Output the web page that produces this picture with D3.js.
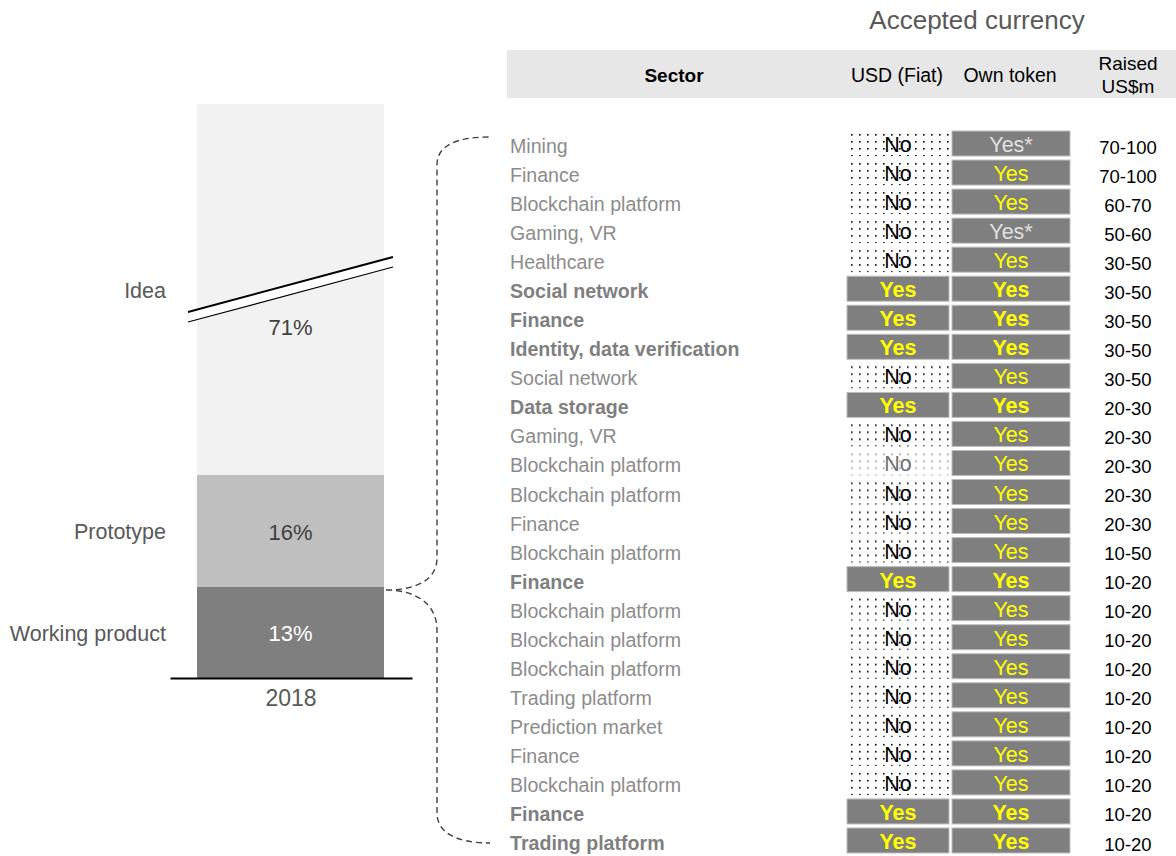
<!DOCTYPE html>
<html>
<head>
<meta charset="utf-8">
<script src="https://cdn.jsdelivr.net/npm/d3@7"></script>
<style>
  html, body { margin: 0; padding: 0; background: #fff; }
  svg { display: block; font-family: "Liberation Sans", Arial, sans-serif; }
</style>
</head>
<body>
<svg id="chart" width="1176" height="856"></svg>
<script>
// ---------------- data ----------------
const barYear = ["2018"];
const stages = ["Working product", "Prototype", "Idea"];
const shares = [13, 16, 71];
const shareLabels = ["13%", "16%", "71%"];

const headers = ["Sector", "USD (Fiat)", "Own token", "Raised US$m"];
const titleText = "Accepted currency";

const sectors = [
  "Mining", "Finance", "Blockchain platform", "Gaming, VR", "Healthcare",
  "Social network", "Finance", "Identity, data verification", "Social network", "Data storage",
  "Gaming, VR", "Blockchain platform", "Blockchain platform", "Finance", "Blockchain platform",
  "Finance", "Blockchain platform", "Blockchain platform", "Blockchain platform", "Trading platform",
  "Prediction market", "Finance", "Blockchain platform", "Finance", "Trading platform"
];
const usdAccepted = [
  "No", "No", "No", "No", "No",
  "Yes", "Yes", "Yes", "No", "Yes",
  "No", "No", "No", "No", "No",
  "Yes", "No", "No", "No", "No",
  "No", "No", "No", "Yes", "Yes"
];
const tokenAccepted = [
  "Yes*", "Yes", "Yes", "Yes*", "Yes",
  "Yes", "Yes", "Yes", "Yes", "Yes",
  "Yes", "Yes", "Yes", "Yes", "Yes",
  "Yes", "Yes", "Yes", "Yes", "Yes",
  "Yes", "Yes", "Yes", "Yes", "Yes"
];
const raised = [
  "70-100", "70-100", "60-70", "50-60", "30-50",
  "30-50", "30-50", "30-50", "30-50", "20-30",
  "20-30", "20-30", "20-30", "20-30", "10-50",
  "10-20", "10-20", "10-20", "10-20", "10-20",
  "10-20", "10-20", "10-20", "10-20", "10-20"
];
const fadedRows = [11];

// ---------------- setup ----------------
const svg = d3.select("#chart");
const defs = svg.append("defs");

function dotPattern(id, color) {
  const p = defs.append("pattern").attr("id", id)
    .attr("patternUnits", "userSpaceOnUse")
    .attr("x", 848).attr("y", 0)
    .attr("width", 8).attr("height", 7);
  p.append("rect").attr("width", 8).attr("height", 7).attr("fill", "#fff");
  p.append("rect").attr("x", 3).attr("y", 3).attr("width", 1.6).attr("height", 1.6).attr("fill", color);
}
dotPattern("dots", "#000");
dotPattern("dotsFaded", "#9a9a9a");

// ---------------- left stacked bar ----------------
const x = d3.scaleBand().domain(barYear).range([197, 384]).padding(0);
const y = d3.scaleLinear().domain([0, 29, 100]).range([678, 475, 104]);

const stackData = [];
let acc = 0;
stages.forEach((s, i) => { stackData.push({ stage: s, v0: acc, v1: acc + shares[i], label: shareLabels[i] }); acc += shares[i]; });

const segColors = d3.scaleOrdinal().domain(stages).range(["#7f7f7f", "#bfbfbf", "#f2f2f2"]);
const valColors = d3.scaleOrdinal().domain(stages).range(["#ffffff", "#404040", "#404040"]);

const gBar = svg.append("g");
gBar.selectAll("rect.seg").data(stackData).join("rect")
  .attr("class", "seg")
  .attr("x", x("2018")).attr("width", x.bandwidth())
  .attr("y", d => y(d.v1)).attr("height", d => y(d.v0) - y(d.v1))
  .attr("fill", d => segColors(d.stage));

// break mark on the Idea segment
const idea = stackData[2];
const yMidIdea = (y(idea.v0) + y(idea.v1)) / 2;
const bx0 = x("2018") - 9, bx1 = x("2018") + x.bandwidth() + 9;
const slope = -55 / 205;
const bxc = (bx0 + bx1) / 2;
const ly = (xx, off) => yMidIdea + off + (xx - bxc) * slope;
gBar.append("path")
  .attr("d", `M${bx0},${ly(bx0, -5)} L${bx1},${ly(bx1, -5)} L${bx1},${ly(bx1, 5)} L${bx0},${ly(bx0, 5)} Z`)
  .attr("fill", "#fff");
gBar.append("line").attr("x1", bx0).attr("y1", ly(bx0, -5)).attr("x2", bx1).attr("y2", ly(bx1, -5))
  .attr("stroke", "#000").attr("stroke-width", 2);
gBar.append("line").attr("x1", bx0).attr("y1", ly(bx0, 5)).attr("x2", bx1).attr("y2", ly(bx1, 5))
  .attr("stroke", "#000").attr("stroke-width", 1.2);

// stage labels
gBar.selectAll("text.stage").data(stackData).join("text")
  .attr("class", "stage")
  .attr("x", 166).attr("y", d => (y(d.v0) + y(d.v1)) / 2 + 1)
  .attr("text-anchor", "end").attr("dominant-baseline", "central")
  .attr("font-size", 21.5).attr("fill", "#595959")
  .text(d => d.stage);

// value labels
gBar.selectAll("text.val").data(stackData).join("text")
  .attr("class", "val")
  .attr("x", x("2018") + x.bandwidth() / 2)
  .attr("y", d => (y(d.v0) + y(d.v1)) / 2 + (d.stage === "Idea" ? 38 : 1))
  .attr("text-anchor", "middle").attr("dominant-baseline", "central")
  .attr("font-size", 22).attr("fill", d => valColors(d.stage))
  .text(d => d.label);

// baseline axis
const xAxis = d3.axisBottom(d3.scaleBand().domain(barYear).range([170, 412])).tickSize(0).tickPadding(12);
const gAxis = svg.append("g").attr("transform", `translate(0,${y(0)})`).call(xAxis);
gAxis.select(".domain").attr("stroke", "#000").attr("stroke-width", 2);
gAxis.selectAll("text").attr("font-size", 23).attr("fill", "#595959")
  .attr("font-family", "'Liberation Sans', Arial, sans-serif");

// ---------------- table ----------------
const rowY = d3.scalePoint().domain(d3.range(sectors.length)).range([145, 842]);

svg.append("text").attr("x", 977).attr("y", 20)
  .attr("text-anchor", "middle").attr("dominant-baseline", "central")
  .attr("font-size", 26).attr("fill", "#595959").text(titleText);

svg.append("rect").attr("x", 507).attr("y", 50).attr("width", 669).attr("height", 48).attr("fill", "#e7e7e7");
svg.append("text").attr("x", 674).attr("y", 75).attr("text-anchor", "middle").attr("dominant-baseline", "central")
  .attr("font-size", 19).attr("font-weight", "bold").attr("fill", "#000").text(headers[0]);
svg.append("text").attr("x", 897).attr("y", 75).attr("text-anchor", "middle").attr("dominant-baseline", "central")
  .attr("font-size", 19.5).attr("fill", "#000").text(headers[1]);
svg.append("text").attr("x", 1010).attr("y", 75).attr("text-anchor", "middle").attr("dominant-baseline", "central")
  .attr("font-size", 19.5).attr("fill", "#000").text(headers[2]);
const rh = svg.append("text").attr("x", 1128).attr("text-anchor", "middle").attr("font-size", 19).attr("fill", "#000");
headers[3].split(" ").forEach((w, i) => {
  rh.append("tspan").attr("x", 1128).attr("y", 63 + i * 23).attr("dominant-baseline", "central").text(w);
});

const rows = sectors.map((s, i) => ({
  i, sector: s, usd: usdAccepted[i], token: tokenAccepted[i], raised: raised[i],
  faded: fadedRows.includes(i)
}));

const gRows = svg.append("g");
const row = gRows.selectAll("g.row").data(rows).join("g").attr("class", "row")
  .attr("transform", d => `translate(0,${rowY(d.i)})`);

// sector labels
row.append("text")
  .attr("x", 510).attr("y", 1).attr("dominant-baseline", "central")
  .attr("font-size", 19.6)
  .attr("font-weight", d => d.usd === "Yes" ? "bold" : "normal")
  .attr("fill", d => d.usd === "Yes" ? "#7f7f7f" : "#8c8c8c")
  .text(d => d.sector);

// USD cells
row.append("rect")
  .attr("x", 847).attr("y", -14).attr("width", 102).attr("height", 25)
  .attr("fill", d => d.usd === "Yes" ? "#7f7f7f" : (d.faded ? "url(#dotsFaded)" : "url(#dots)"))
  .attr("stroke", d => d.usd === "Yes" ? "#bdbdbd" : "none").attr("stroke-width", 1);
row.append("text")
  .attr("x", 898).attr("y", 0).attr("text-anchor", "middle").attr("dominant-baseline", "central")
  .attr("font-size", 21.5)
  .attr("font-weight", d => d.usd === "Yes" ? "bold" : "normal")
  .attr("fill", d => d.usd === "Yes" ? "#ffff00" : (d.faded ? "#707070" : "#000"))
  .text(d => d.usd);

// Own token cells
row.append("rect")
  .attr("x", 952).attr("y", -14).attr("width", 118).attr("height", 25)
  .attr("fill", "#7f7f7f").attr("stroke", "#bdbdbd").attr("stroke-width", 1);
row.append("text")
  .attr("x", 1011).attr("y", 0).attr("text-anchor", "middle").attr("dominant-baseline", "central")
  .attr("font-size", 21.5)
  .attr("font-weight", d => d.usd === "Yes" ? "bold" : "normal")
  .attr("fill", d => d.token === "Yes*" ? "#e0e0e0" : "#ffff00")
  .text(d => d.token);

// raised
row.append("text")
  .attr("x", 1128).attr("y", 2).attr("text-anchor", "middle").attr("dominant-baseline", "central")
  .attr("font-size", 18.5).attr("fill", "#000")
  .text(d => d.raised);

// ---------------- brace connector ----------------
const bStartX = x("2018") + x.bandwidth() + 2;
const bStartY = y(shares[0]) + 3;
const vx = 437;
const topY = rowY(0) - 8, botY = rowY(sectors.length - 1) + 1;
const endX = 490;
const brace = d3.path();
brace.moveTo(bStartX, bStartY);
brace.bezierCurveTo(bStartX + 30, bStartY, vx, bStartY - 10, vx, bStartY - 32);
brace.lineTo(vx, topY + 28);
brace.bezierCurveTo(vx, topY + 8, vx + 20, topY, endX, topY);
brace.moveTo(bStartX, bStartY);
brace.bezierCurveTo(bStartX + 30, bStartY, vx, bStartY + 14, vx, bStartY + 40);
brace.lineTo(vx, botY - 30);
brace.bezierCurveTo(vx, botY - 10, vx + 20, botY, endX, botY);
svg.append("path").attr("d", brace.toString())
  .attr("fill", "none").attr("stroke", "#404040").attr("stroke-width", 1.4)
  .attr("stroke-dasharray", "6,4");
</script>
</body>
</html>
